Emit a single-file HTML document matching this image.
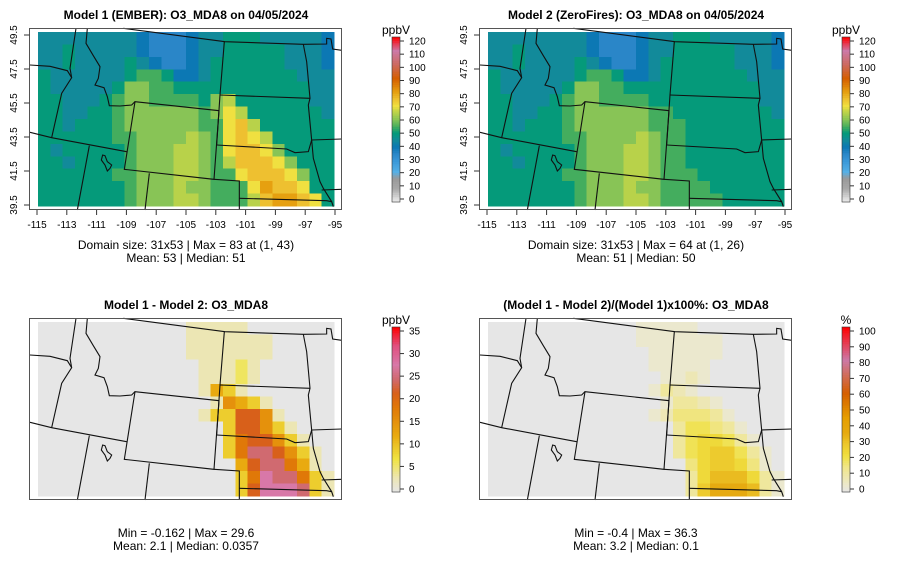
<!DOCTYPE html>
<html><head><meta charset="utf-8"><style>
body{margin:0;background:#fff;}
svg{display:block;font-family:"Liberation Sans",sans-serif;}
</style></head><body>
<svg id="c" width="900" height="579" viewBox="0 0 900 579"></svg>
<script>
// ---- data (grids, 14 rows x 24 cols, coarse) ----
// Panel 1: code * 5 = ppbV
const p1Rows = [
"999999998777899aaa999998",
"99a999998777899aaaaa9998",
"99a9999a987789aaaaaa9998",
"a999999abba889aaaaaaa999",
"a99999accbbaaaaaaaaaaa99",
"aa999abccbbbb"+"acd"+"aaaaaa99",
"aa99aabccccccb"+"ced"+"aaaaaa9",
"aa9aaabccccccbb"+"efd"+"aaaaaa",
"aaaaaabbccccdcb"+"efed"+"aaaaa",
"a9aaaaabcccddcb"+"effec"+"aaaa",
"aa9aaaabcccddcb"+"dfffec"+"aaa",
"aaaaaabbcccddcbb"+"efffec"+"aa",
"aaaaaaabcccdccbbb"+"egffe"+"aa",
"aaaaaaabcccddcbbb"+"dfggfe"+"a"];
// Panel 2: code * 5 = ppbV
const p2Rows = [
"999999998777899aaa999998",
"99a999998777899aaaaa9998",
"99a9999a987789aaaaaa9998",
"a999999abba889aaaaaaa999",
"a99999accbbaaaaaaaaaaa99",
"aa999abccbbbbaaaaaaaaa99",
"aa99aabccccccbbaaaaaaaa9",
"aa9aaabccccccbbbaaaaaaaa",
"aaaaaabbccccdcbbaaaaaaaa",
"a9aaaaabcccddcbbaaaaaaaa",
"aa9aaaabcccddcbbaaaaaaaa",
"aaaaaabbcccddcbbbaaaaaaa",
"aaaaaaabcccdccbbbbaaaaaa",
"aaaaaaabcccddcbbbbbaaaaa"];
// Panel 3: code * 3 = ppbV difference
const p3Rows = [
"000000000000111110000000",
"000000000000111111100000",
"000000000000111111100000",
"000000000000011121000000",
"000000000000011121000000",
"0000000000000"+"1431"+"0000000",
"00000000000000"+"15431"+"00000",
"0000000000000"+"1337751"+"0000",
"000000000000000"+"377531"+"000",
"000000000000000"+"3677531"+"00",
"000000000000000"+"36887531"+"0",
"0000000000000000"+"4788641"+"0",
"0000000000000000"+"36988631",
"0000000000000000"+"37999831"];
// Panel 4: code * 4 = percent
const p4Rows = [
"000000000000111110000000",
"000000000000111111100000",
"000000000000011111100000",
"000000000000011111000000",
"000000000000001121000000",
"0000000000000"+"1321"+"0000000",
"00000000000000"+"13321"+"00000",
"0000000000000"+"1244431"+"0000",
"000000000000000"+"355431"+"000",
"000000000000000"+"3566531"+"00",
"000000000000000"+"35677531"+"0",
"0000000000000000"+"4677641"+"0",
"0000000000000000"+"36888631",
"0000000000000000"+"37999831"];
const codeUnits = [5, 5, 3, 4];
const titles = ["Model 1 (EMBER): O3_MDA8 on 04/05/2024","Model 2 (ZeroFires): O3_MDA8 on 04/05/2024","Model 1 - Model 2: O3_MDA8","(Model 1 - Model 2)/(Model 1)x100%: O3_MDA8"];
const statLine1 = ["Domain size: 31x53 | Max = 83 at (1, 43)","Domain size: 31x53 | Max = 64 at (1, 26)","Min = -0.162 | Max = 29.6","Min = -0.4 | Max = 36.3"];
const statLine2 = ["Mean: 53 |  Median: 51","Mean: 51 |  Median: 50","Mean: 2.1 |  Median: 0.0357","Mean: 3.2 |  Median: 0.1"];
const xTickLabels = [-115,-113,-111,-109,-107,-105,-103,-101,-99,-97,-95];
const yTickLabels = [49.5,47.5,45.5,43.5,41.5,39.5];
const cbTicksMain = [0,10,20,30,40,50,60,70,80,90,100,110,120];
const cbTicksDiff = [0,5,10,15,20,25,30,35];
const cbTicksPct = [0,10,20,30,40,50,60,70,80,90,100];
const cbUnits = ["ppbV","ppbV","ppbV","%"];

const stopsMain=[[0,"#eeeeee"],[10,"#a8a8a8"],[17,"#9a9a9a"],[22,"#56b0e6"],[30,"#3a98d8"],[35,"#2a86c8"],[40,"#0c78b4"],[45,"#128a9a"],[50,"#059a7a"],[55,"#44ad5e"],[60,"#88c456"],[65,"#b8d24a"],[70,"#f0e040"],[75,"#eec030"],[80,"#e6a010"],[90,"#d55e00"],[100,"#cc6a60"],[110,"#cc79a7"],[120,"#ff0000"]];
const stopsDiff=[[0,"#e6e6e6"],[3,"#ece6b4"],[7,"#f0e442"],[12,"#e9aa10"],[18,"#e07808"],[21,"#d8601a"],[24,"#d06a70"],[27,"#d878a8"],[31,"#e05080"],[35,"#ff0000"]];
const stopsPct=[[0,"#e6e6e6"],[5,"#ece8c8"],[15,"#f0e68a"],[22,"#f0e040"],[30,"#ecc428"],[36,"#e6aa10"],[45,"#e69f00"],[60,"#d55e00"],[80,"#cc79a7"],[100,"#ff0000"]];
const scales=[stopsMain,stopsMain,stopsDiff,stopsPct];
const maxs=[120,120,35,100];
const ticksets=[cbTicksMain,cbTicksMain,cbTicksDiff,cbTicksPct];
const grids=[p1Rows,p2Rows,p3Rows,p4Rows];

const NS="http://www.w3.org/2000/svg";
const svg=document.getElementById("c");
function mk(tag,attrs,parent){const e=document.createElementNS(NS,tag);for(const k in attrs)e.setAttribute(k,attrs[k]);(parent||svg).appendChild(e);return e;}
function hex(h){return [1,3,5].map(i=>parseInt(h.substr(i,2),16));}
function colorFor(v,stops){
  if(v<=stops[0][0])return stops[0][1];
  for(let i=1;i<stops.length;i++){if(v<=stops[i][0]){const a=stops[i-1],b=stops[i];const t=(v-a[0])/(b[0]-a[0]);const ca=hex(a[1]),cb=hex(b[1]);return "rgb("+ca.map((x,j)=>Math.round(x+(cb[j]-x)*t)).join(",")+")";}}
  return stops[stops.length-1][1];
}
const offs=[[0,0],[450,0],[0,290],[450,290]];
const mx0=38,my0=32,mw=296,mh=174;
function xScale(lon){return 37+(lon+115)/20*298;}
function yScale(lat){return 35+(49.5-lat)/10*170;}
const bordersZoom=[
"M280,10 L585,50 L820,58 L890,57 L890,40 L903,42 L908,72 L935,76",
"M138,10 L120,130 L125,158 L95,205 L65,338",
"M0,120 L60,124 L112,137 L125,158",
"M172,10 L168,55 L190,92 L210,125 L205,160 L195,180 L222,188 L232,215 L238,242 L270,243 L305,240 L315,230",
"M0,322 L65,338 L290,380",
"M315,230 L567,257 L552,463 L283,433 Z",
"M583,50 L570,210 L560,360",
"M570,210 L840,220",
"M820,58 L830,110 L840,220 L835,240 L845,345 L850,400 L870,470 L880,490 L905,530 L910,545",
"M560,360 L770,372 L795,383 L835,380 L845,345",
"M845,345 L935,342",
"M552,463 L628,468 L628,555",
"M628,520 L890,527 L905,530",
"M875,495 L935,493",
"M178,362 L142,555",
"M358,445 L345,555",
"M218,390 L214,405 L225,420 L232,438 L240,430 L245,420 L232,410 L225,392 Z"];

for(let p=0;p<4;p++){
  const [ox,oy]=offs[p];
  const g=mk("g",{transform:`translate(${ox},${oy})`});
  
  
  const t=mk("text",{x:186,y:19,"text-anchor":"middle","font-size":12,"font-weight":"bold"},g);t.textContent=titles[p];
  
  
  const rows=grids[p],nr=rows.length,nc=rows[0].length;
  const hg=mk("g",{"shape-rendering":"crispEdges"},g);
  
  
  for(let r=0;r<nr;r++)for(let c=0;c<nc;c++){
    const v=parseInt(rows[r][c],36)*codeUnits[p];
    const x1=mx0+c*mw/nc,x2=mx0+(c+1)*mw/nc,y1=my0+r*mh/nr,y2=my0+(r+1)*mh/nr;
    const cell=mk("rect",{x:x1.toFixed(2),y:y1.toFixed(2),width:(x2-x1+0.3).toFixed(2),height:(y2-y1+0.3).toFixed(2),fill:colorFor(v,scales[p])},hg);
    
    
  }
  const bg=mk("g",{transform:"translate(30,25) scale(0.33333)",fill:"none",stroke:"#111","stroke-width":3.3},g);
  
  
  bordersZoom.forEach(d=>mk("path",{d:d},bg));
  const fr=mk("rect",{x:29.5,y:28.5,width:312,height:181,fill:"none",stroke:"#555","stroke-width":1},g);
  
  
  if(p<2){
    xTickLabels.forEach(l=>{const x=xScale(l);
      mk("line",{x1:x,x2:x,y1:210,y2:215,stroke:"#333"},g);
      const tl=mk("text",{x:x,y:228,"text-anchor":"middle","font-size":10},g);tl.textContent=l;
      
      });
    yTickLabels.forEach(l=>{const y=yScale(l);
      mk("line",{x1:24,x2:29.5,y1:y,y2:y,stroke:"#333"},g);
      const tl=mk("text",{x:0,y:0,"text-anchor":"middle","font-size":10,transform:`translate(17,${y}) rotate(-90)`},g);tl.textContent=l.toFixed(1);
      
      });
  }
  const s1=mk("text",{x:186,y:p<2?249:247,"text-anchor":"middle","font-size":12},g);s1.textContent=statLine1[p];
  
  
  const s2=mk("text",{x:186,y:p<2?262:260,"text-anchor":"middle","font-size":12},g);s2.textContent=statLine2[p];
  
  
  const cb=mk("g",{},g);
  
  
  const by0=37,by1=202,bx=392,bw=8,mx=maxs[p];
  const n=90;
  for(let i=0;i<n;i++){const v=(i+0.5)/n*mx;const y=by1-(i+1)*(by1-by0)/n;
    mk("rect",{x:bx,y:y.toFixed(2),width:bw,height:((by1-by0)/n+0.4).toFixed(2),fill:colorFor(v,scales[p]),"shape-rendering":"crispEdges"},cb);}
  mk("rect",{x:bx,y:by0,width:bw,height:by1-by0,fill:"none",stroke:"#333","stroke-width":0.6},cb);
  const tb=ticksets[p];
  const cy=v=>by1-3-v/mx*(by1-by0-7);
  tb.forEach(v=>{const y=cy(v);mk("line",{x1:bx+bw,x2:bx+bw+4,y1:y,y2:y,stroke:"#333"},cb);
    const tl=mk("text",{x:409,y:y+3.5,"font-size":10},cb);tl.textContent=v;
    
    });
  const u=mk("text",{x:396,y:34,"text-anchor":"middle","font-size":12},cb);u.textContent=cbUnits[p];
  
  
}
</script>
</body></html>
